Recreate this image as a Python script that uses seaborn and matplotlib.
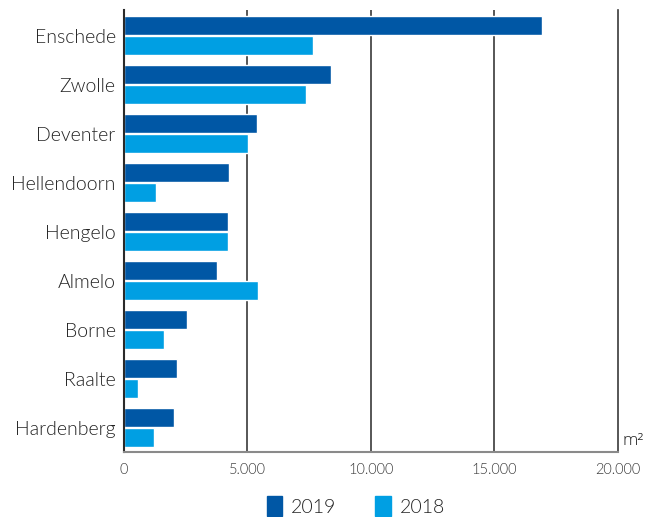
import pandas as pd
import numpy as np
import matplotlib.pyplot as plt
import seaborn as sns
from matplotlib.ticker import FuncFormatter
from matplotlib.patches import Patch

# data (m2)
gemeenten = ['Enschede', 'Zwolle', 'Deventer', 'Hellendoorn', 'Hengelo',
             'Almelo', 'Borne', 'Raalte', 'Hardenberg']
m2_2019 = [16950, 8390, 5400, 4260, 4220, 3780, 2560, 2160, 2040]
m2_2018 = [7660, 7380, 5030, 1310, 4220, 5440, 1630, 580, 1230]
jaren = ['2019', '2018']
kleuren = ['#0057a5', '#009fe3']

df = pd.DataFrame({'gemeente': gemeenten * 2,
                   'jaar': ['2019'] * len(gemeenten) + ['2018'] * len(gemeenten),
                   'm2': m2_2019 + m2_2018})

sns.set_style('white')
plt.rcParams['font.family'] = ['Lato', 'DejaVu Sans']
plt.rcParams['font.weight'] = 300

fig = plt.figure(figsize=(6.65, 5.17), dpi=100)
ax = fig.add_axes([0.1865, 0.1263, 0.7425, 0.8547])

sns.barplot(data=df, y='gemeente', x='m2', hue='jaar', hue_order=jaren,
            palette=kleuren, width=0.82, gap=0.05, orient='h',
            saturation=1, legend=False, ax=ax)

ax.set_xlim(0, 20000)
ax.set_ylim(8.49, -0.53)
ax.set_xticks([0, 5000, 10000, 15000, 20000])
ax.xaxis.set_major_formatter(FuncFormatter(lambda v, p: f'{int(v):,}'.replace(',', '.')))
ax.set_xlabel('')
ax.set_ylabel('')

# vertical gridlines
for v in [5000, 10000, 15000]:
    ax.axvline(v, color='#3a3a3a', lw=1.2, zorder=0)
ax.set_axisbelow(True)

ax.spines['top'].set_visible(False)
ax.spines['right'].set_color('#3a3a3a')
ax.spines['right'].set_linewidth(1.2)
ax.spines['left'].set_color('#2a2a2a')
ax.spines['left'].set_linewidth(1.5)
ax.spines['bottom'].set_color('#8a8a8a')
ax.spines['bottom'].set_linewidth(1.5)

ax.tick_params(axis='x', length=0, pad=8, labelsize=10.5, labelcolor='#3a3a3a')
ax.tick_params(axis='y', length=0, pad=6, labelsize=14, labelcolor='#222222')

ax.text(1.01, 0.005, 'm²', transform=ax.transAxes, fontsize=12.5,
        family=['Open Sans', 'DejaVu Sans'], color='#222222',
        ha='left', va='bottom')

handles = [Patch(color=c, label=j) for c, j in zip(kleuren, jaren)]
fig.legend(handles=handles, loc='lower center', bbox_to_anchor=(0.535, -0.032),
           ncol=2, frameon=False, fontsize=14, handlelength=0.8,
           handleheight=1.2, handletextpad=0.45, columnspacing=2.0,
           labelcolor='#222222')

fig.savefig('out.png', dpi=100)
